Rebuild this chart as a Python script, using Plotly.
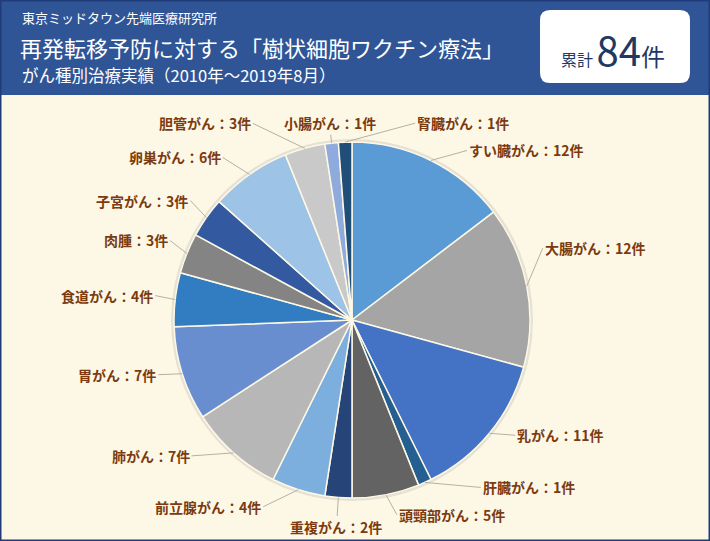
import math
import plotly.graph_objects as go

# data
cancer_types = ["すい臓がん", "大腸がん", "乳がん", "肝臓がん", "頭頸部がん", "重複がん",
                "前立腺がん", "肺がん", "胃がん", "食道がん", "肉腫", "子宮がん",
                "卵巣がん", "胆管がん", "小腸がん", "腎臓がん"]
case_counts = [12, 12, 11, 1, 5, 2, 4, 7, 7, 4, 3, 3, 6, 3, 1, 1]
total_cases = 84

slice_colors = ["#5b9bd5", "#a5a5a5", "#4472c4", "#255e91", "#636363", "#264478",
                "#7cafdd", "#b7b7b7", "#698ed0", "#327dc2", "#848484", "#335aa1",
                "#9dc3e6", "#c9c9c9", "#8faadc", "#1f4e79"]

W, H = 710, 541
cx, cy, r = 352, 320, 178   # pie centre / radius in pixels (from top-left)

# label offsets (pixels from slice edge) and text anchor
label_offsets = [(36, -10, "left"), (16, -38, "left"), (26, 2, "left"), (56, 5, "left"),
                 (11, 20, "left"), (-2, 30, "center"), (-35, 17, "right"), (-42, 3, "right"),
                 (-24, 1, "right"), (-20, -4, "right"), (-17, -13, "right"), (-16, -17, "right"),
                 (-27, -17, "right"), (-52, -25, "right"), (-2, -20, "center"), (70, -19, "left")]

fig = go.Figure(go.Pie(
    labels=cancer_types,
    values=case_counts,
    sort=False,
    direction="clockwise",
    rotation=0,
    textinfo="none",
    hoverinfo="label+value",
    marker=dict(colors=slice_colors, line=dict(color="#fdf8e6", width=1.5)),
    domain=dict(x=[(cx - r) / W, (cx + r) / W],
                y=[(H - cy - r) / H, (H - cy + r) / H]),
    showlegend=False,
))

# leader-line labels, anchored at each slice's mid-angle on the rim
s = sum(case_counts)
cum = 0
for name, v, (ax, ay, anc) in zip(cancer_types, case_counts, label_offsets):
    mid = (cum + v / 2) / s * 2 * math.pi
    cum += v
    px = cx + r * math.sin(mid)
    py = cy - r * math.cos(mid)
    fig.add_annotation(
        x=px / W, y=1 - py / H, xref="paper", yref="paper",
        text=f"{name}：{v}件", showarrow=True, arrowhead=0, arrowwidth=1,
        arrowcolor="#b5b0a5", ax=ax, ay=ay, xanchor=anc, yanchor="middle",
        font=dict(family="Noto Sans CJK JP", size=14, color="#7b3a0f", weight="bold"),
    )

# soft shadow behind the pie
fig.add_shape(type="circle", xref="paper", yref="paper", layer="below",
              x0=(cx - r - 3) / W, x1=(cx + r + 3) / W,
              y0=(H - cy - r - 3) / H, y1=(H - cy + r + 3) / H,
              fillcolor="#e6e1d3", line=dict(width=0))

# header band and counter box
fig.add_shape(type="rect", xref="paper", yref="paper", x0=0, x1=1, y0=1 - 95 / H, y1=1,
              fillcolor="#2f5597", line=dict(width=0), layer="below")
fig.add_shape(type="path", xref="paper", yref="paper", layer="below",
              path="M 0.7746 0.9815 L 0.9577 0.9815 Q 0.9718 0.9815 0.9718 0.963 L 0.9718 0.8651 "
                   "Q 0.9718 0.8466 0.9577 0.8466 L 0.7746 0.8466 Q 0.7606 0.8466 0.7606 0.8651 "
                   "L 0.7606 0.963 Q 0.7606 0.9815 0.7746 0.9815 Z",
              fillcolor="white", line=dict(width=0))
fig.add_shape(type="rect", xref="paper", yref="paper", x0=0, x1=1, y0=0, y1=1,
              line=dict(color="#1f3c78", width=3), fillcolor="rgba(0,0,0,0)")

hdr = "Noto Sans CJK JP"
fig.add_annotation(x=20 / W, y=1 - 18 / H, xref="paper", yref="paper", showarrow=False,
                   xanchor="left", yanchor="middle", text="東京ミッドタウン先端医療研究所",
                   font=dict(family=hdr, size=13, color="white"))
fig.add_annotation(x=18 / W, y=1 - 47 / H, xref="paper", yref="paper", showarrow=False,
                   xanchor="left", yanchor="middle", text="再発転移予防に対する「樹状細胞ワクチン療法」",
                   font=dict(family=hdr, size=22, color="white"))
fig.add_annotation(x=20 / W, y=1 - 75 / H, xref="paper", yref="paper", showarrow=False,
                   xanchor="left", yanchor="middle", text="がん種別治療実績（2010年～2019年8月）",
                   font=dict(family=hdr, size=16.5, color="white"))
fig.add_annotation(x=613 / W, y=1 - 49 / H, xref="paper", yref="paper", showarrow=False,
                   xanchor="center", yanchor="middle",
                   text=f"<span style='font-size:16px'>累計 </span>{total_cases}"
                        "<span style='font-size:24px'>件</span>",
                   font=dict(family=hdr, size=40, color="#1f3864"))

fig.update_layout(
    width=W, height=H,
    margin=dict(l=0, r=0, t=0, b=0),
    paper_bgcolor="#fdf8e6",
    plot_bgcolor="#fdf8e6",
)

fig.write_html("out.html", config={"displayModeBar": False},
               post_script="document.body.style.margin='0';")
